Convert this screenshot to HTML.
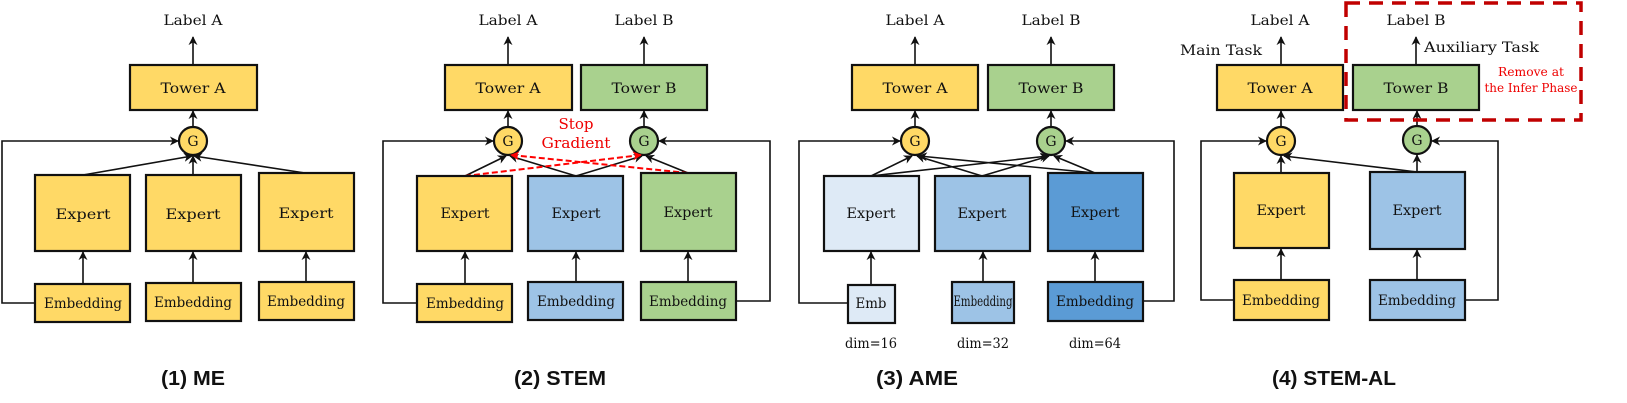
<!DOCTYPE html>
<html><head><meta charset="utf-8"><style>
html,body{margin:0;padding:0;background:#fff;}
svg{display:block}
.t{font-family:"DejaVu Serif","Liberation Serif",serif;font-size:14px;fill:#111;}
.r{font-family:"DejaVu Serif","Liberation Serif",serif;fill:#e00;}
.h{font-family:"Liberation Sans",sans-serif;font-weight:bold;font-size:20px;fill:#111;}
.b{stroke:#111;stroke-width:2.2;}
.l{stroke:#111;stroke-width:1.6;fill:none;}
.d{stroke:#f00;stroke-width:2;fill:none;stroke-dasharray:6 3;}
</style></head><body>
<svg width="1627" height="403" viewBox="0 0 1627 403" xmlns="http://www.w3.org/2000/svg">
<defs>
<marker id="a" viewBox="0 0 10 10" refX="9" refY="5" markerWidth="9" markerHeight="9" markerUnits="userSpaceOnUse" orient="auto"><path d="M0,0 L10,5 L0,10 L3,5 z" fill="#111"/></marker>
<marker id="ar" viewBox="0 0 10 10" refX="9" refY="5" markerWidth="9" markerHeight="9" markerUnits="userSpaceOnUse" orient="auto"><path d="M0,0 L10,5 L0,10 L3,5 z" fill="#f00"/></marker>
</defs>

<!-- ===== Panel 1 ===== -->
<text class="t" x="193" y="25" text-anchor="middle" textLength="59" lengthAdjust="spacingAndGlyphs">Label A</text>
<line class="l" x1="193" y1="65" x2="193" y2="37" marker-end="url(#a)"/>
<rect class="b" x="130" y="65" width="127" height="45" fill="#ffd966"/>
<text class="t" x="193" y="93" text-anchor="middle" textLength="65" lengthAdjust="spacingAndGlyphs">Tower A</text>
<line class="l" x1="193" y1="127" x2="193" y2="111" marker-end="url(#a)"/>
<circle class="b" cx="193" cy="141" r="14" fill="#ffd966"/>
<text class="t" x="193" y="146" text-anchor="middle" font-size="12">G</text>
<polyline class="l" points="35,303 2,303 2,141 178,141" marker-end="url(#a)"/>
<line class="l" x1="83" y1="175" x2="192" y2="156" marker-end="url(#a)"/>
<line class="l" x1="193" y1="175" x2="193" y2="156" marker-end="url(#a)"/>
<line class="l" x1="305" y1="173" x2="194" y2="156" marker-end="url(#a)"/>
<rect class="b" x="35" y="175" width="95" height="76" fill="#ffd966"/>
<rect class="b" x="146" y="175" width="95" height="76" fill="#ffd966"/>
<rect class="b" x="259" y="173" width="95" height="78" fill="#ffd966"/>
<text class="t" x="83" y="219" text-anchor="middle" font-size="16" textLength="55" lengthAdjust="spacingAndGlyphs">Expert</text>
<text class="t" x="193" y="219" text-anchor="middle" font-size="16" textLength="55" lengthAdjust="spacingAndGlyphs">Expert</text>
<text class="t" x="306" y="218" text-anchor="middle" font-size="16" textLength="55" lengthAdjust="spacingAndGlyphs">Expert</text>
<line class="l" x1="83" y1="283" x2="83" y2="252" marker-end="url(#a)"/>
<line class="l" x1="193" y1="283" x2="193" y2="252" marker-end="url(#a)"/>
<line class="l" x1="306" y1="282" x2="306" y2="252" marker-end="url(#a)"/>
<rect class="b" x="35" y="284" width="95" height="38" fill="#ffd966"/>
<rect class="b" x="146" y="283" width="95" height="38" fill="#ffd966"/>
<rect class="b" x="259" y="282" width="95" height="38" fill="#ffd966"/>
<text class="t" x="83" y="308" text-anchor="middle" textLength="78" lengthAdjust="spacingAndGlyphs">Embedding</text>
<text class="t" x="193" y="307" text-anchor="middle" textLength="78" lengthAdjust="spacingAndGlyphs">Embedding</text>
<text class="t" x="306" y="306" text-anchor="middle" textLength="78" lengthAdjust="spacingAndGlyphs">Embedding</text>
<text class="h" x="193" y="385" text-anchor="middle" textLength="64" lengthAdjust="spacingAndGlyphs">(1) ME</text>

<!-- ===== Panel 2 ===== -->
<text class="t" x="508" y="25" text-anchor="middle" textLength="59" lengthAdjust="spacingAndGlyphs">Label A</text>
<text class="t" x="644" y="25" text-anchor="middle" textLength="59" lengthAdjust="spacingAndGlyphs">Label B</text>
<line class="l" x1="508" y1="65" x2="508" y2="37" marker-end="url(#a)"/>
<line class="l" x1="644" y1="65" x2="644" y2="37" marker-end="url(#a)"/>
<rect class="b" x="445" y="65" width="127" height="45" fill="#ffd966"/>
<rect class="b" x="581" y="65" width="126" height="45" fill="#a9d18e"/>
<text class="t" x="508" y="93" text-anchor="middle" textLength="65" lengthAdjust="spacingAndGlyphs">Tower A</text>
<text class="t" x="644" y="93" text-anchor="middle" textLength="65" lengthAdjust="spacingAndGlyphs">Tower B</text>
<line class="l" x1="508" y1="127" x2="508" y2="111" marker-end="url(#a)"/>
<line class="l" x1="644" y1="127" x2="644" y2="111" marker-end="url(#a)"/>
<circle class="b" cx="508" cy="141" r="14" fill="#ffd966"/>
<circle class="b" cx="644" cy="141" r="14" fill="#a9d18e"/>
<text class="t" x="508" y="146" text-anchor="middle" font-size="12">G</text>
<text class="t" x="644" y="146" text-anchor="middle" font-size="12">G</text>
<polyline class="l" points="417,303 383,303 383,141 493,141" marker-end="url(#a)"/>
<polyline class="l" points="736,301 770,301 770,141 659,141" marker-end="url(#a)"/>
<line class="l" x1="465" y1="176" x2="506" y2="156" marker-end="url(#a)"/>
<line class="l" x1="576" y1="176" x2="510" y2="156" marker-end="url(#a)"/>
<line class="l" x1="576" y1="176" x2="642" y2="156" marker-end="url(#a)"/>
<line class="l" x1="688" y1="173" x2="646" y2="156" marker-end="url(#a)"/>
<line class="d" x1="465" y1="176" x2="641" y2="155" marker-end="url(#ar)"/>
<line class="d" x1="688" y1="173" x2="511" y2="155" marker-end="url(#ar)"/>
<text class="r" x="576" y="129" text-anchor="middle" font-size="15" textLength="35" lengthAdjust="spacingAndGlyphs">Stop</text>
<text class="r" x="576" y="148" text-anchor="middle" font-size="15" textLength="69" lengthAdjust="spacingAndGlyphs">Gradient</text>
<rect class="b" x="417" y="176" width="95" height="75" fill="#ffd966"/>
<rect class="b" x="528" y="176" width="95" height="75" fill="#9dc3e6"/>
<rect class="b" x="641" y="173" width="95" height="78" fill="#a9d18e"/>
<text class="t" x="465" y="218" text-anchor="middle" textLength="49" lengthAdjust="spacingAndGlyphs">Expert</text>
<text class="t" x="576" y="218" text-anchor="middle" textLength="49" lengthAdjust="spacingAndGlyphs">Expert</text>
<text class="t" x="688" y="217" text-anchor="middle" textLength="49" lengthAdjust="spacingAndGlyphs">Expert</text>
<line class="l" x1="465" y1="284" x2="465" y2="252" marker-end="url(#a)"/>
<line class="l" x1="576" y1="282" x2="576" y2="252" marker-end="url(#a)"/>
<line class="l" x1="688" y1="282" x2="688" y2="252" marker-end="url(#a)"/>
<rect class="b" x="417" y="284" width="95" height="38" fill="#ffd966"/>
<rect class="b" x="528" y="282" width="95" height="38" fill="#9dc3e6"/>
<rect class="b" x="641" y="282" width="95" height="38" fill="#a9d18e"/>
<text class="t" x="465" y="308" text-anchor="middle" textLength="78" lengthAdjust="spacingAndGlyphs">Embedding</text>
<text class="t" x="576" y="306" text-anchor="middle" textLength="78" lengthAdjust="spacingAndGlyphs">Embedding</text>
<text class="t" x="688" y="306" text-anchor="middle" textLength="78" lengthAdjust="spacingAndGlyphs">Embedding</text>
<text class="h" x="560" y="385" text-anchor="middle" textLength="92" lengthAdjust="spacingAndGlyphs">(2) STEM</text>

<!-- ===== Panel 3 ===== -->
<text class="t" x="915" y="25" text-anchor="middle" textLength="59" lengthAdjust="spacingAndGlyphs">Label A</text>
<text class="t" x="1051" y="25" text-anchor="middle" textLength="59" lengthAdjust="spacingAndGlyphs">Label B</text>
<line class="l" x1="915" y1="65" x2="915" y2="37" marker-end="url(#a)"/>
<line class="l" x1="1051" y1="65" x2="1051" y2="37" marker-end="url(#a)"/>
<rect class="b" x="852" y="65" width="126" height="45" fill="#ffd966"/>
<rect class="b" x="988" y="65" width="126" height="45" fill="#a9d18e"/>
<text class="t" x="915" y="93" text-anchor="middle" textLength="65" lengthAdjust="spacingAndGlyphs">Tower A</text>
<text class="t" x="1051" y="93" text-anchor="middle" textLength="65" lengthAdjust="spacingAndGlyphs">Tower B</text>
<line class="l" x1="915" y1="127" x2="915" y2="111" marker-end="url(#a)"/>
<line class="l" x1="1051" y1="127" x2="1051" y2="111" marker-end="url(#a)"/>
<circle class="b" cx="915" cy="141" r="14" fill="#ffd966"/>
<circle class="b" cx="1051" cy="141" r="14" fill="#a9d18e"/>
<text class="t" x="915" y="146" text-anchor="middle" font-size="12">G</text>
<text class="t" x="1051" y="146" text-anchor="middle" font-size="12">G</text>
<polyline class="l" points="848,303 799,303 799,141 900,141" marker-end="url(#a)"/>
<polyline class="l" points="1143,301 1174,301 1174,141 1066,141" marker-end="url(#a)"/>
<line class="l" x1="871" y1="176" x2="912" y2="156" marker-end="url(#a)"/>
<line class="l" x1="871" y1="176" x2="1048" y2="156" marker-end="url(#a)"/>
<line class="l" x1="982" y1="176" x2="917" y2="156" marker-end="url(#a)"/>
<line class="l" x1="982" y1="176" x2="1049" y2="156" marker-end="url(#a)"/>
<line class="l" x1="1095" y1="173" x2="919" y2="156" marker-end="url(#a)"/>
<line class="l" x1="1095" y1="173" x2="1054" y2="156" marker-end="url(#a)"/>
<rect class="b" x="824" y="176" width="95" height="75" fill="#deeaf6"/>
<rect class="b" x="935" y="176" width="95" height="75" fill="#9dc3e6"/>
<rect class="b" x="1048" y="173" width="95" height="78" fill="#5b9bd5"/>
<text class="t" x="871" y="218" text-anchor="middle" textLength="49" lengthAdjust="spacingAndGlyphs">Expert</text>
<text class="t" x="982" y="218" text-anchor="middle" textLength="49" lengthAdjust="spacingAndGlyphs">Expert</text>
<text class="t" x="1095" y="217" text-anchor="middle" textLength="49" lengthAdjust="spacingAndGlyphs">Expert</text>
<line class="l" x1="871" y1="285" x2="871" y2="252" marker-end="url(#a)"/>
<line class="l" x1="983" y1="282" x2="983" y2="252" marker-end="url(#a)"/>
<line class="l" x1="1095" y1="282" x2="1095" y2="252" marker-end="url(#a)"/>
<rect class="b" x="848" y="285" width="47" height="38" fill="#deeaf6"/>
<rect class="b" x="952" y="282" width="62" height="41" fill="#9dc3e6"/>
<rect class="b" x="1048" y="282" width="95" height="39" fill="#5b9bd5"/>
<text class="t" x="871" y="308" text-anchor="middle" textLength="31" lengthAdjust="spacingAndGlyphs">Emb</text>
<text class="t" x="983" y="306" text-anchor="middle" font-size="10" textLength="59" lengthAdjust="spacingAndGlyphs">Embedding</text>
<text class="t" x="1095" y="306" text-anchor="middle" textLength="78" lengthAdjust="spacingAndGlyphs">Embedding</text>
<text class="t" x="871" y="348" text-anchor="middle" textLength="52" lengthAdjust="spacingAndGlyphs">dim=16</text>
<text class="t" x="983" y="348" text-anchor="middle" textLength="52" lengthAdjust="spacingAndGlyphs">dim=32</text>
<text class="t" x="1095" y="348" text-anchor="middle" textLength="52" lengthAdjust="spacingAndGlyphs">dim=64</text>
<text class="h" x="917" y="385" text-anchor="middle" textLength="82" lengthAdjust="spacingAndGlyphs">(3) AME</text>

<!-- ===== Panel 4 ===== -->
<text class="t" x="1280" y="25" text-anchor="middle" textLength="59" lengthAdjust="spacingAndGlyphs">Label A</text>
<text class="t" x="1416" y="25" text-anchor="middle" textLength="59" lengthAdjust="spacingAndGlyphs">Label B</text>
<text class="t" x="1221" y="55" text-anchor="middle" textLength="82" lengthAdjust="spacingAndGlyphs">Main Task</text>
<text class="t" x="1424" y="52" textLength="115" lengthAdjust="spacingAndGlyphs">Auxiliary Task</text>
<line class="l" x1="1281" y1="65" x2="1281" y2="37" marker-end="url(#a)"/>
<line class="l" x1="1416" y1="65" x2="1416" y2="37" marker-end="url(#a)"/>
<rect class="b" x="1217" y="65" width="126" height="45" fill="#ffd966"/>
<rect class="b" x="1353" y="65" width="126" height="45" fill="#a9d18e"/>
<text class="t" x="1280" y="93" text-anchor="middle" textLength="65" lengthAdjust="spacingAndGlyphs">Tower A</text>
<text class="t" x="1416" y="93" text-anchor="middle" textLength="65" lengthAdjust="spacingAndGlyphs">Tower B</text>
<line class="l" x1="1281" y1="127" x2="1281" y2="111" marker-end="url(#a)"/>
<line class="l" x1="1417" y1="126" x2="1417" y2="111" marker-end="url(#a)"/>
<circle class="b" cx="1281" cy="141" r="14" fill="#ffd966"/>
<circle class="b" cx="1417" cy="140" r="14" fill="#a9d18e"/>
<text class="t" x="1281" y="146" text-anchor="middle" font-size="12">G</text>
<text class="t" x="1417" y="145" text-anchor="middle" font-size="12">G</text>
<polyline class="l" points="1234,300 1201,300 1201,141 1266,141" marker-end="url(#a)"/>
<polyline class="l" points="1465,300 1498,300 1498,141 1432,141" marker-end="url(#a)"/>
<line class="l" x1="1281" y1="173" x2="1281" y2="156" marker-end="url(#a)"/>
<line class="l" x1="1417" y1="172" x2="1284" y2="156" marker-end="url(#a)"/>
<line class="l" x1="1417" y1="172" x2="1417" y2="155" marker-end="url(#a)"/>
<rect class="b" x="1234" y="173" width="95" height="75" fill="#ffd966"/>
<rect class="b" x="1370" y="172" width="95" height="77" fill="#9dc3e6"/>
<text class="t" x="1281" y="215" text-anchor="middle" textLength="49" lengthAdjust="spacingAndGlyphs">Expert</text>
<text class="t" x="1417" y="215" text-anchor="middle" textLength="49" lengthAdjust="spacingAndGlyphs">Expert</text>
<line class="l" x1="1281" y1="280" x2="1281" y2="249" marker-end="url(#a)"/>
<line class="l" x1="1417" y1="280" x2="1417" y2="250" marker-end="url(#a)"/>
<rect class="b" x="1234" y="280" width="95" height="40" fill="#ffd966"/>
<rect class="b" x="1370" y="280" width="95" height="40" fill="#9dc3e6"/>
<text class="t" x="1281" y="305" text-anchor="middle" textLength="78" lengthAdjust="spacingAndGlyphs">Embedding</text>
<text class="t" x="1417" y="305" text-anchor="middle" textLength="78" lengthAdjust="spacingAndGlyphs">Embedding</text>
<rect x="1346" y="3" width="235" height="117" fill="none" stroke="#c00000" stroke-width="3.5" stroke-dasharray="14 9"/>
<text class="r" x="1531" y="76" text-anchor="middle" font-size="12" textLength="66" lengthAdjust="spacingAndGlyphs" fill="#d00">Remove at</text>
<text class="r" x="1531" y="92" text-anchor="middle" font-size="12" textLength="93" lengthAdjust="spacingAndGlyphs" fill="#d00">the Infer Phase</text>
<text class="h" x="1334" y="385" text-anchor="middle" textLength="124" lengthAdjust="spacingAndGlyphs">(4) STEM-AL</text>
</svg>
</body></html>
